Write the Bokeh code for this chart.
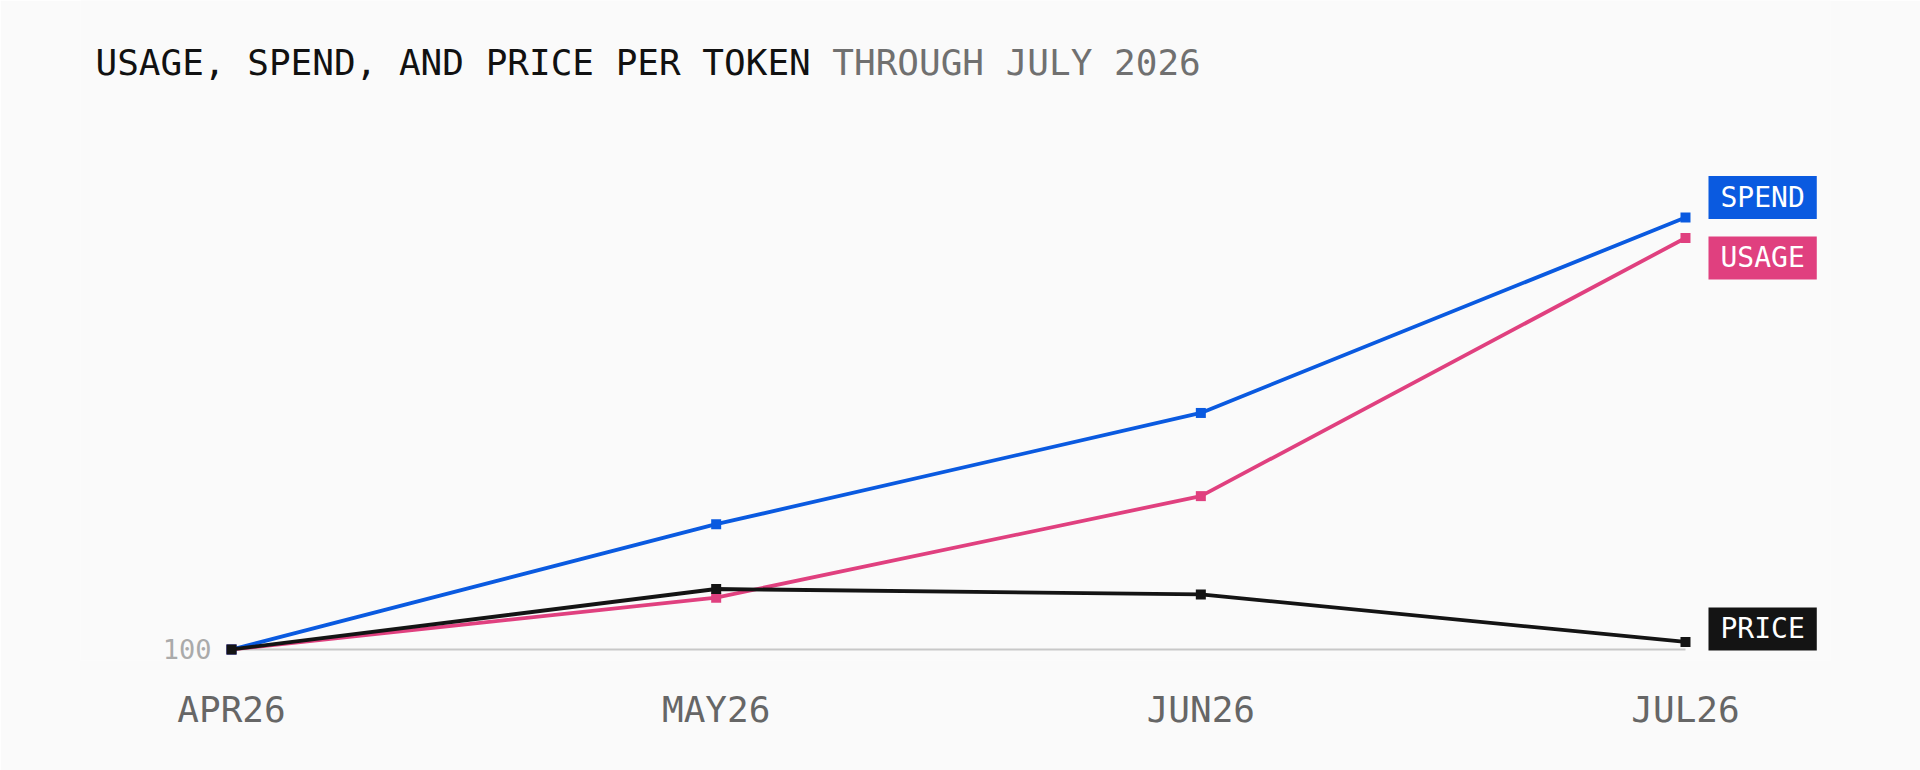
from bokeh.plotting import figure
from bokeh.models import Range1d, FixedTicker, Label
from bokeh.embed import file_html
from bokeh.resources import INLINE

# data (index, APR26 = 100)
months = ["APR26", "MAY26", "JUN26", "JUL26"]
x = [0, 1, 2, 3]
base = 100
usage = [100, 148, 242, 481]
spend = [100, 216, 319, 500]
price = [100, 156, 151, 107]

series_names = ["SPEND", "USAGE", "PRICE"]
series_values = [spend, usage, price]
series_colors = ["#0a5ae0", "#e0407f", "#141414"]
label_shift = [20, -20, 13]   # px, keeps end labels from overlapping

title_main = "USAGE, SPEND, AND PRICE PER TOKEN"
title_sub = "THROUGH JULY 2026"

FONT = "DejaVu Sans Mono"
BG = "#fafafa"

# frame spans the full height so the title (a Label) is not clipped
p = figure(width=1920, height=770, output_backend="svg", toolbar_location=None,
           title_location=None,
           x_range=Range1d(-0.3116, 3.2992), y_range=Range1d(89.8, 700.9),
           min_border_left=80, min_border_right=90, min_border_top=0,
           min_border_bottom=110)
p.background_fill_color = BG
p.border_fill_color = BG
p.outline_line_color = None
p.grid.visible = False

# axes
p.xaxis.ticker = FixedTicker(ticks=x)
p.xaxis.major_label_overrides = {i: m for i, m in zip(x, months)}
p.xaxis.major_label_text_font = FONT
p.xaxis.major_label_text_font_size = "36px"
p.xaxis.major_label_text_color = "#666666"
p.xaxis.major_label_standoff = 22
p.yaxis.ticker = FixedTicker(ticks=[base])
p.yaxis.major_label_text_font = FONT
p.yaxis.major_label_text_font_size = "27px"
p.yaxis.major_label_text_color = "#aaaaaa"
p.yaxis.major_label_standoff = -137
for ax in (p.xaxis, p.yaxis):
    ax.axis_line_color = None
    ax.major_tick_line_color = None
    ax.minor_tick_line_color = None

# baseline at 100
p.line([x[0], x[-1]], [base, base], line_color="#c8c8c8", line_width=2)

order = [1, 0, 2]  # usage, spend, price on top
for i in order:
    p.line(x, series_values[i], line_color=series_colors[i], line_width=3.8)
    p.scatter(x, series_values[i], marker="square", size=10,
              fill_color=series_colors[i], line_color=None)

for name, vals, col, dy in zip(series_names, series_values, series_colors, label_shift):
    p.add_layout(Label(x=x[-1], y=vals[-1], x_offset=23, y_offset=dy, text=name,
                       text_font=FONT, text_font_size="28px", text_color="white",
                       text_baseline="middle", text_align="left",
                       background_fill_color=col, padding=(12, 5)))

# two-tone title
p.add_layout(Label(x=15, y=598, x_units="screen", y_units="screen",
                   text=title_main, text_font=FONT,
                   text_font_size="36px", text_color="#111111",
                   text_baseline="alphabetic"))
p.add_layout(Label(x=15 + (len(title_main) + 1) * 21.67, y=598,
                   x_units="screen", y_units="screen",
                   text=title_sub, text_font=FONT,
                   text_font_size="36px", text_color="#707070",
                   text_baseline="alphabetic"))

html = file_html(p, INLINE)
open("out.html", "w").write(html)
